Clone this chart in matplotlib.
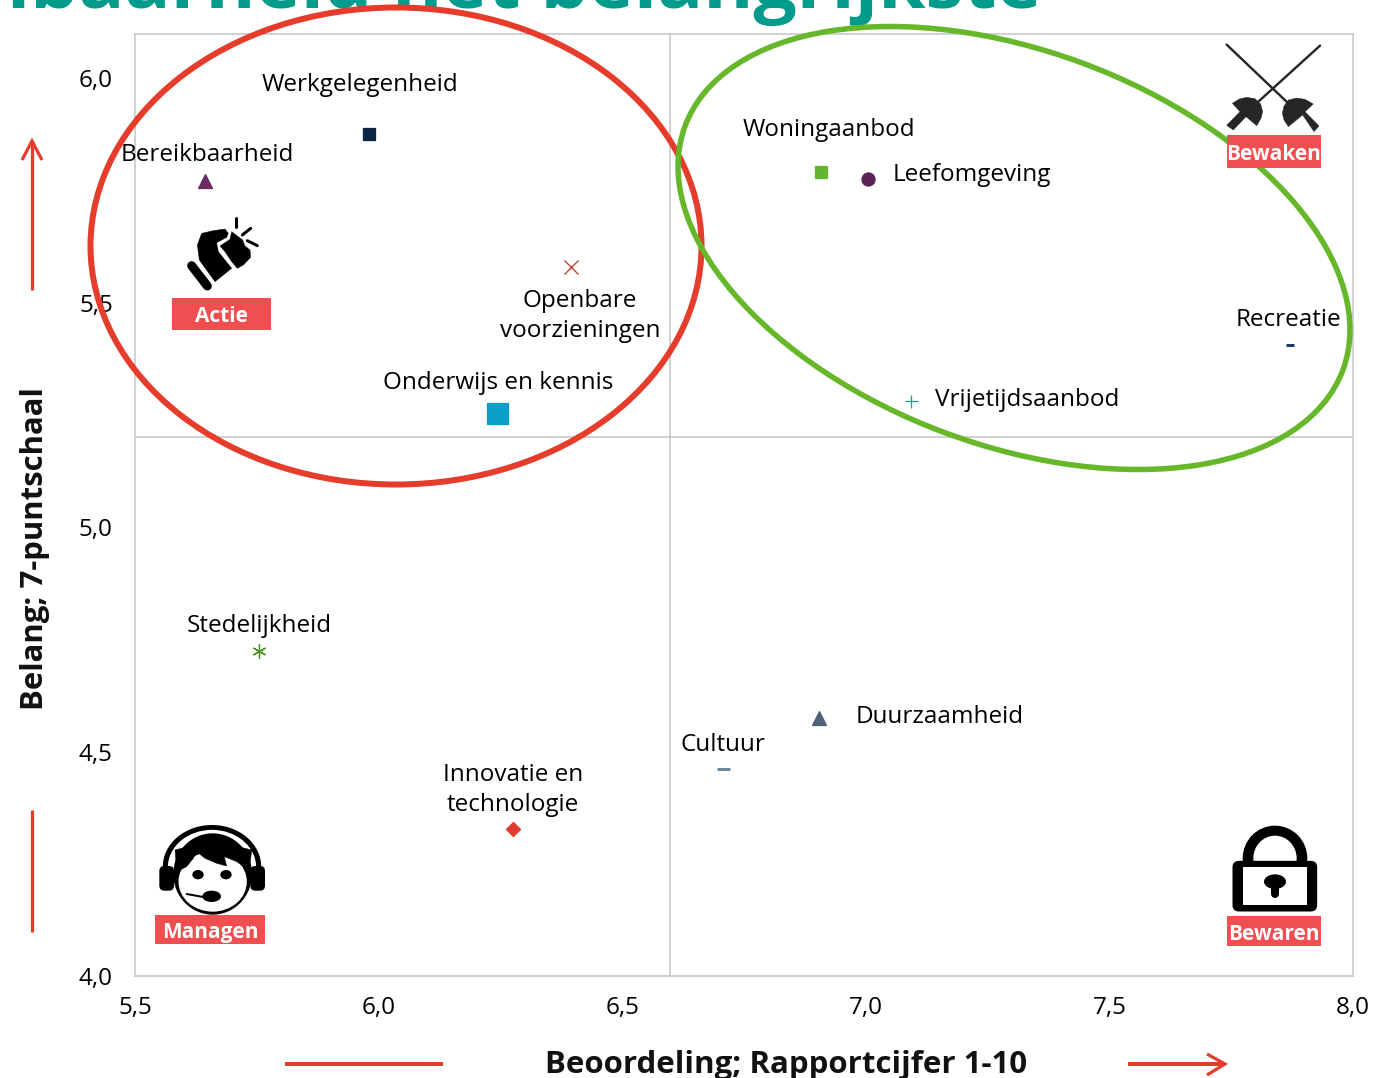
import matplotlib
matplotlib.use("Agg")
import matplotlib.pyplot as plt
from matplotlib.patches import Ellipse, Rectangle, Polygon, FancyBboxPatch
from matplotlib.ticker import FuncFormatter

W, H = 1393, 1078
plt.rcParams['font.family'] = ['Open Sans', 'DejaVu Sans']

names = ["Werkgelegenheid", "Bereikbaarheid", "Openbare voorzieningen", "Onderwijs en kennis",
         "Woningaanbod", "Leefomgeving", "Recreatie", "Vrijetijdsaanbod",
         "Stedelijkheid", "Innovatie en technologie", "Duurzaamheid", "Cultuur"]
beoordeling = [5.98, 5.643, 6.395, 6.243, 6.908, 7.004, 7.87, 7.093, 5.755, 6.276, 6.904, 6.707]
belang = [5.875, 5.77, 5.58, 5.254, 5.79, 5.775, 5.405, 5.28, 4.724, 4.327, 4.575, 4.46]
x_ticks = [5.5, 6.0, 6.5, 7.0, 7.5, 8.0]
y_ticks = [4.0, 4.5, 5.0, 5.5, 6.0]
x_split = 6.598
y_split = 5.2

# marker, grootte (px), kleur per punt
stijl = [("s", 12, "#0b2545"), ("^", 14, "#6a2c63"), ("x", 14, "#c0392b"), ("s", 21, "#0a9fc9"),
         ("s", 12, "#62b52e"), ("o", 13, "#5c2357"), ("_", 8, "#1f3a68"), ("+", 13, "#1f9d8f"),
         ((6, 2, 0), 14, "#4d8f1f"), ("D", 10, "#e23b2e"), ("^", 14, "#4f6378"), ("_", 13, "#72869a")]

# labels in pixels
labels = [("Werkgelegenheid", 360, 85), ("Bereikbaarheid", 207, 155), ("Openbare\nvoorzieningen", 580, 316),
          ("Onderwijs en kennis", 498, 383), ("Woningaanbod", 829, 130), ("Leefomgeving", 972, 175),
          ("Recreatie", 1288, 320), ("Vrijetijdsaanbod", 1027, 400), ("Stedelijkheid", 259, 626),
          ("Innovatie en\ntechnologie", 513, 790), ("Duurzaamheid", 940, 717), ("Cultuur", 723, 745)]

px = 72 / 100  # 1 pixel in punten
ROOD = "#e63c2b"
GROEN = "#66b82a"
BADGE = "#f04e50"

fig = plt.figure(figsize=(W / 100, H / 100), dpi=100, facecolor="white")
ax = fig.add_axes([135 / W, 1 - 976 / H, (1353 - 135) / W, (976 - 34) / H])
ax.set_xlim(5.5, 8.0)
ax.set_ylim(4.0, 6.098)
for s in ax.spines.values():
    s.set_color("#c6c6c6")
    s.set_linewidth(1.6 * px)
ax.axvline(x_split, color="#c6c6c6", lw=1.6 * px, zorder=1)
ax.axhline(y_split, color="#c6c6c6", lw=1.6 * px, zorder=1)
ax.set_xticks(x_ticks)
ax.set_yticks(y_ticks)
komma = FuncFormatter(lambda v, p: f"{v:.1f}".replace(".", ","))
ax.xaxis.set_major_formatter(komma)
ax.yaxis.set_major_formatter(komma)
ax.tick_params(axis="x", length=0, pad=14.5, labelsize=17.5)
ax.tick_params(axis="y", length=0, pad=16, labelsize=17.5)

for x, y, (m, size, c) in zip(beoordeling, belang, stijl):
    dikte = 3 if m == "_" else 1.3
    ax.plot([x], [y], ls="none", marker=m, ms=size * px, color=c, mec=c, mew=dikte * px, zorder=3)

# overlay in pixelcoordinaten voor tekst en iconen
ov = fig.add_axes([0, 0, 1, 1], facecolor="none")
ov.set_xlim(0, W)
ov.set_ylim(H, 0)
ov.axis("off")

ov.text(1042, 8, "Kenbaarheid het belangrijkste", color="#009b8a", fontsize=55, fontweight="bold",
        ha="right", va="baseline", zorder=1)

for t, x, y in labels:
    ov.text(x, y, t, ha="center", va="center", fontsize=17.5, color="black", linespacing=1.3, zorder=2)

ov.text(786, 1065, "Beoordeling; Rapportcijfer 1-10", ha="center", va="center", fontsize=22.5,
        fontweight="bold", color="#111111")
ov.text(35, 549, "Belang; 7-puntschaal", ha="center", va="center", rotation=90, fontsize=22.4,
        fontweight="bold", color="#111111")

ov.add_patch(Ellipse((396, 246), 611, 477, fill=False, ec=ROOD, lw=6 * px, zorder=4))
ov.add_patch(Ellipse((1014, 248), 701.6, 394.4, angle=20.35, fill=False, ec=GROEN, lw=5.5 * px, zorder=4))

# pijlen
def lijn(xs, ys, c=ROOD, w=3.2):
    ov.plot(xs, ys, color=c, lw=w * px, solid_capstyle="butt", solid_joinstyle="miter", zorder=4)

lijn([32, 32], [290, 141])
lijn([22, 32, 42], [160, 141, 160])
lijn([32, 32], [810, 932])
lijn([285, 443], [1064, 1064], w=4)
lijn([1128, 1225], [1064, 1064], w=4)
lijn([1207, 1225, 1207], [1054, 1064, 1075])

# badges
for t, x0, y0, x1, y1 in [("Actie", 172, 298, 271, 330), ("Bewaken", 1227, 135, 1321, 168),
                          ("Managen", 155, 915, 265, 944), ("Bewaren", 1227, 916, 1321, 946)]:
    ov.add_patch(Rectangle((x0, y0), x1 - x0, y1 - y0, fc=BADGE, ec="none", zorder=5))
    ov.text((x0 + x1) / 2, (y0 + y1) / 2 + 3, t, color="white", fontweight="bold", fontsize=15,
            ha="center", va="center", zorder=6)

def zoomed(x0, y0, punten):
    return [(x0 + a / 3, y0 + b / 3) for a, b in punten]

def vorm(x0, y0, punten, c="black", z=5):
    ov.add_patch(Polygon(zoomed(x0, y0, punten), closed=True, fc=c, ec=c, lw=0.3, zorder=z))

def streep(x0, y0, a, b, w, c="black", cap="round", z=5):
    p = zoomed(x0, y0, [a, b])
    ov.plot([p[0][0], p[1][0]], [p[0][1], p[1][1]], color=c, lw=w * px, solid_capstyle=cap, zorder=z)

# vuist
FX, FY = 160, 200
streep(FX, FY, (95, 197), (142, 258), 9)
vorm(FX, FY, [(125, 100), (160, 92), (195, 87), (205, 100), (200, 112), (170, 128), (175, 155), (215, 205),
              (165, 245), (118, 180), (112, 135)])
vorm(FX, FY, [(210, 118), (215, 95), (232, 108), (248, 120), (255, 138), (270, 150), (272, 172), (250, 195),
              (232, 205), (215, 185), (195, 155), (180, 138)])
streep(FX, FY, (228, 55), (228, 82), 3)
streep(FX, FY, (247, 105), (272, 85), 3)
streep(FX, FY, (262, 122), (292, 137), 3)

# degens
DX, DY = 1150, 0
GRIJS = "#262626"
streep(DX, DY, (230, 134), (415, 310), 2.4, GRIJS)
streep(DX, DY, (510, 137), (325, 305), 2.4, GRIJS)
vorm(DX, DY, [(247, 310), (268, 297), (290, 292), (315, 296), (332, 312), (338, 335), (333, 355), (320, 377),
              (288, 350), (250, 390), (230, 376), (270, 335)], GRIJS)
vorm(DX, DY, [(490, 312), (465, 298), (440, 294), (415, 300), (402, 318), (397, 340), (402, 360), (415, 380),
              (458, 345), (492, 395), (507, 378), (465, 335)], GRIJS)

# headset
MX, MY = 130, 800
def zp(a, b):
    return MX + a / 3, MY + b / 3
ov.add_patch(Ellipse(zp(246, 200), 295 / 3, 250 / 3, fc="black", ec="none", zorder=5))
ov.add_patch(Ellipse(zp(246, 202), 265 / 3, 225 / 3, fc="white", ec="none", zorder=5))
ov.add_patch(Rectangle(zp(90, 215), 330 / 3, 130 / 3, fc="white", ec="none", zorder=5))
ov.add_patch(FancyBboxPatch(zp(103, 213), 14 / 3, 44 / 3, boxstyle="round,pad=5", fc="black", ec="none", zorder=6))
ov.add_patch(FancyBboxPatch(zp(376, 213), 14 / 3, 44 / 3, boxstyle="round,pad=5", fc="black", ec="none", zorder=6))
ov.add_patch(Ellipse(zp(248, 222), 236 / 3, 244 / 3, fc="black", ec="none", zorder=5))
ov.add_patch(Ellipse(zp(248, 245), 205 / 3, 180 / 3, fc="white", ec="none", zorder=5))
vorm(MX, MY, [(140, 215), (170, 200), (190, 175), (200, 155), (225, 175), (260, 190), (290, 198), (283, 170),
              (320, 185), (358, 212), (365, 150), (248, 120), (135, 150)], z=6)
ov.add_patch(Ellipse(zp(204, 224), 34 / 3, 28 / 3, fc="black", ec="none", zorder=6))
ov.add_patch(Ellipse(zp(288, 224), 34 / 3, 28 / 3, fc="black", ec="none", zorder=6))
ov.add_patch(Ellipse(zp(245, 289), 56 / 3, 34 / 3, fc="black", ec="none", zorder=6))
streep(MX, MY, (170, 282), (225, 292), 2, z=6)

# slot
LX, LY = 1200, 810
def zl(a, b):
    return LX + a / 3, LY + b / 3
ov.add_patch(Ellipse(zl(225, 145), 194 / 3, 196 / 3, fc="black", ec="none", zorder=5))
ov.add_patch(Ellipse(zl(225, 145), 130 / 3, 136 / 3, fc="white", ec="none", zorder=5))
ov.add_patch(FancyBboxPatch(zl(117, 172), 215 / 3, 113 / 3, boxstyle="round,pad=6.5", fc="black", ec="none", zorder=6))
ov.add_patch(Rectangle(zl(130, 172), 192 / 3, 113 / 3, fc="white", ec="none", zorder=6))
ov.add_patch(Ellipse(zl(225, 215), 66 / 3, 44 / 3, fc="black", ec="none", zorder=7))
streep(LX, LY, (225, 220), (225, 252), 8, z=7)

fig.savefig("out.png", dpi=100, facecolor="white")
